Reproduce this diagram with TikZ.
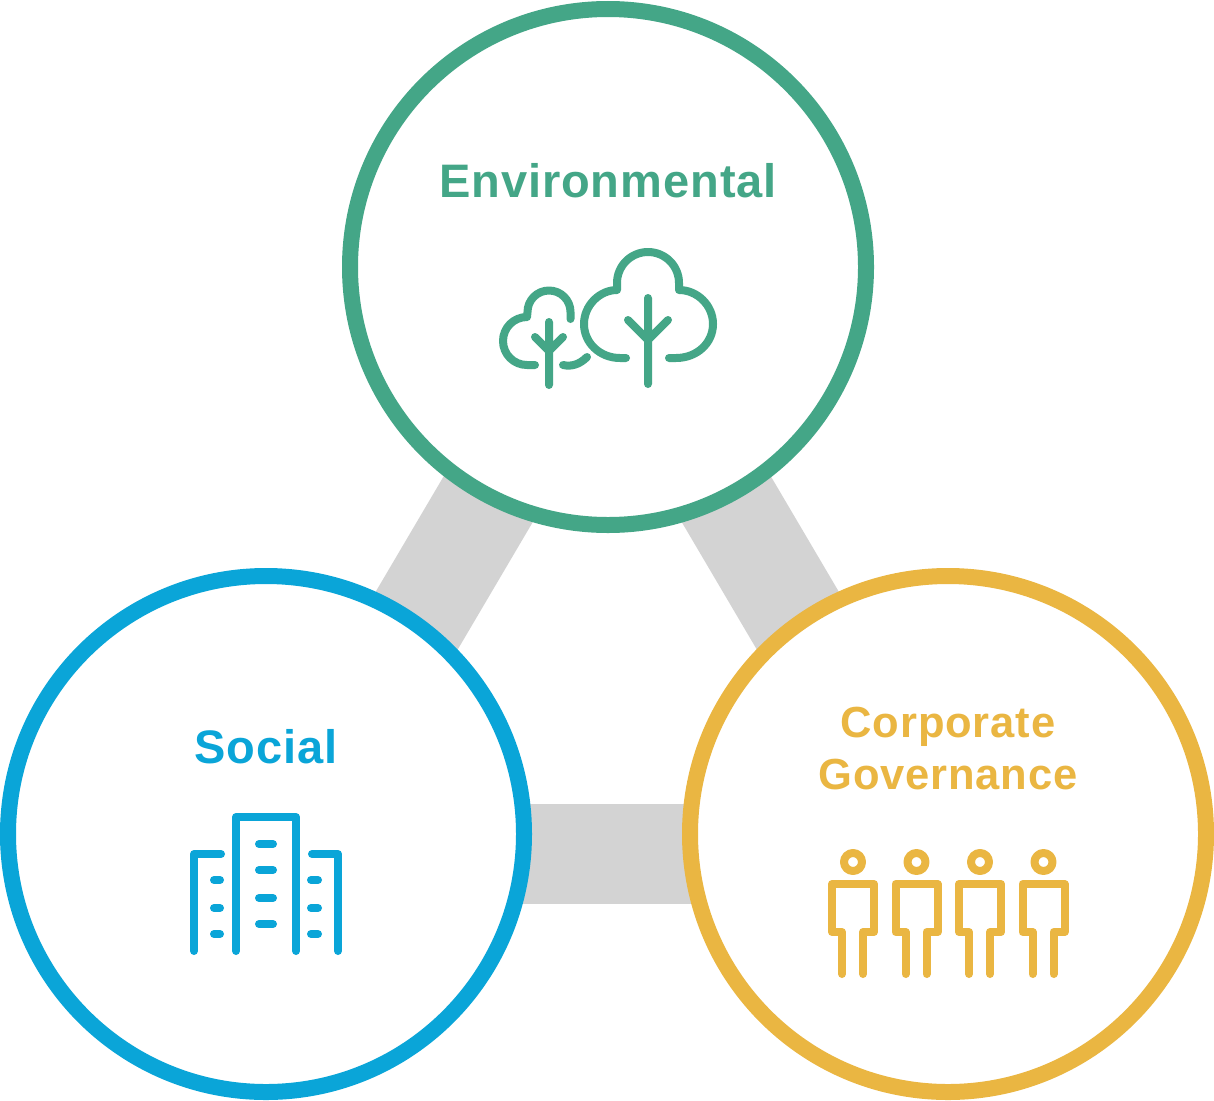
\documentclass[tikz,border=0pt]{standalone}
\usepackage{fontspec}
\setmainfont{Liberation Sans}
\definecolor{envc}{HTML}{44A687}
\definecolor{socc}{HTML}{0AA5D8}
\definecolor{govc}{HTML}{EAB642}
\definecolor{bandc}{HTML}{D3D3D3}
\tikzset{
  x=1pt,y=1pt,
  ring/.style={circle,draw=#1,line width=16pt,fill=white,minimum size=516pt,inner sep=0pt},
  band/.style={draw=bandc,line width=100pt},
  label/.style={text=#1,anchor=base,inner sep=0pt,font=\fontsize{47}{50}\selectfont\bfseries\addfontfeature{LetterSpace=2}},
  smalllabel/.style={text=#1,anchor=base,inner sep=0pt,font=\fontsize{43.5}{50}\selectfont\bfseries\addfontfeature{LetterSpace=2}},
  icon/.style={draw=#1,line cap=round,line join=round,line width=8pt},
}
\newcommand{\person}[1]{%
  \begin{scope}[xshift=#1 pt]
    \draw[icon=govc] (853,-862) circle[radius=9];
    \draw[icon=govc] (842,-974) -- (842,-932) -- (832,-932) -- (832,-884) -- (874,-884) -- (874,-932) -- (863,-932) -- (863,-974);
  \end{scope}}
\begin{document}
\begin{tikzpicture}
\useasboundingbox (0,0) rectangle (1214,-1100);
% anchors of the bands inside the circles
\coordinate (ta) at (625,-267);
\coordinate (sa) at (291,-834);
\coordinate (tb) at (589.5,-267);
\coordinate (ga) at (923.5,-834);
\coordinate (sb) at (266,-854);
\coordinate (gb) at (948,-854);
\draw[band] (ta) -- (sa);
\draw[band] (tb) -- (ga);
\draw[band] (sb) -- (gb);
\node[ring=envc] (env) at (608,-267) {};
\node[ring=socc] (soc) at (266,-834) {};
\node[ring=govc] (gov) at (948,-834) {};
\node[label=envc] (envt) at (608,-197) {Environmental};
\node[label=socc] (soct) at (266,-763) {Social};
\node[smalllabel=govc] (govt1) at (948,-737) {Corporate};
\node[smalllabel=govc] (govt2) at (948,-789) {Governance};
% trees
\draw[icon=envc] (626,-358) -- (620,-358) .. controls (600,-358) and (584,-343) .. (584,-324) .. controls (584,-305) and (600,-290) .. (617,-290) -- (617,-283) arc[start angle=180,end angle=0,radius=31] -- (679,-290) .. controls (697,-290) and (713,-305) .. (713,-324) .. controls (713,-343) and (697,-358) .. (676,-358) -- (669,-358);
\draw[icon=envc] (648,-298) -- (648,-384) (628,-320) -- (648,-340) -- (668,-320);
\draw[icon=envc] (535,-365) -- (527,-365) arc[start angle=270,end angle=90,radius=24] -- (527.5,-312) arc[start angle=180,end angle=0,radius=21.5] -- (570.5,-319);
\draw[icon=envc] (563,-365) .. controls (572,-367) and (580,-364) .. (587,-357);
\draw[icon=envc] (549,-322) -- (549,-385) (535,-337) -- (549,-351) -- (563,-337);
% buildings
\draw[icon=socc] (236,-951) -- (236,-817) -- (296,-817) -- (296,-951);
\draw[icon=socc] (194,-951) -- (194,-854) -- (221,-854);
\draw[icon=socc] (312,-854) -- (338,-854) -- (338,-951);
\foreach \y in {844,870,898,924} \draw[icon=socc] (259,-\y) -- (273,-\y);
\foreach \y in {880,908,934} {
  \draw[icon=socc] (214,-\y) -- (220,-\y);
  \draw[icon=socc] (311,-\y) -- (318,-\y);
}
% people
\person{0}\person{63.5}\person{127}\person{190.5}
\end{tikzpicture}
\end{document}
